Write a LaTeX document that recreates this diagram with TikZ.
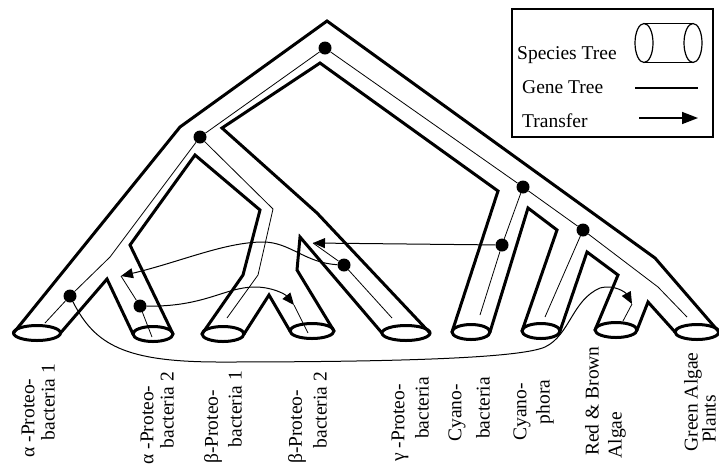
\documentclass[tikz,border=0pt]{standalone}
\usepackage{fontspec}
\setmainfont{Liberation Serif}
\usetikzlibrary{arrows.meta}
\begin{document}
\begin{tikzpicture}[x=1pt,y=-1pt,
  tube/.style={line width=3pt, line join=miter},
  rim/.style={line width=3pt},
  gene/.style={line width=0.8pt},
  xfer/.style={line width=1pt, -{Triangle[length=12pt,width=10pt]}},
  gdot/.style={circle, fill=black, inner sep=0pt, minimum size=13pt},
  lab/.style={rotate=90, inner sep=0pt, font=\fontsize{19.5}{22}\selectfont},
  legtext/.style={anchor=base west, inner sep=0pt, font=\fontsize{19.5}{22}\selectfont}]
\useasboundingbox (0,0) rectangle (719,467);

% species tree outline
\draw[tube] (13.5,333) -- (180,127) -- (327,21) -- (655,258) -- (719,332);
\draw[tube] (430,333) -- (317,213) -- (222,128) -- (320,63) -- (498,191) -- (452,332);
\draw[tube] (173,334) -- (130,245) -- (195,155) -- (260,210) -- (243,275) -- (202,334);
\draw[tube] (60.5,333) -- (107,279) -- (133,334);
\draw[tube] (244,334) -- (269,295) -- (290,331);
\draw[tube] (334,331) -- (297,270) -- (300,237) -- (382,333);
\draw[tube] (490,332) -- (528,208) -- (557,230) -- (522,331);
\draw[tube] (560,331) -- (587,252) -- (618,275) -- (595,330);
\draw[tube] (637,330) -- (648,302) -- (675,332);

% tube ends
\draw[rim] (37,333) ellipse [x radius=23.5pt, y radius=7.5pt];
\draw[rim] (153,334) ellipse [x radius=20pt, y radius=7.5pt];
\draw[rim] (223,334) ellipse [x radius=21pt, y radius=7.5pt];
\draw[rim] (312,331) ellipse [x radius=22pt, y radius=7.5pt];
\draw[rim] (406,333) ellipse [x radius=24pt, y radius=7.5pt];
\draw[rim] (471,332) ellipse [x radius=19pt, y radius=7.5pt];
\draw[rim] (541,331) ellipse [x radius=19pt, y radius=7.5pt];
\draw[rim] (616,330) ellipse [x radius=21pt, y radius=7.5pt];
\draw[rim] (697,332) ellipse [x radius=22pt, y radius=7.5pt];

% gene tree nodes
\node[gdot] (R) at (325,48) {};
\node[gdot] (P) at (200,137) {};
\node[gdot] (A1) at (70,296) {};
\node[gdot] (A2) at (140,306) {};
\node[gdot] (G) at (344,265) {};
\node[gdot] (C) at (523,187) {};
\node[gdot] (CB) at (502,245) {};
\node[gdot] (PL) at (583,230) {};

\coordinate (a1b) at (110,257); \coordinate (a1e) at (45,323);
\coordinate (a2t) at (121,276); \coordinate (a2e) at (152,337);
\coordinate (b1a) at (273,209); \coordinate (b1b) at (258,275); \coordinate (b1e) at (227,318);
\coordinate (b2t) at (294,305); \coordinate (b2e) at (308,333);
\coordinate (gt) at (313,243); \coordinate (ge) at (392,318);
\coordinate (cbe) at (480,315);
\coordinate (cpe) at (545,317);
\coordinate (gr1) at (658,287); \coordinate (gre) at (687,317);
\coordinate (rt) at (632,304); \coordinate (re) at (623,321);

% gene tree
\draw[gene] (P) -- (R) -- (C);
\draw[gene] (P) -- (a1b) -- (A1) -- (a1e);
\draw[gene] (a2t) -- (A2) -- (a2e);
\draw[gene] (P) -- (b1a) -- (b1b) -- (b1e);
\draw[gene] (b2t) -- (b2e);
\draw[gene] (gt) -- (G) -- (ge);
\draw[gene] (C) -- (CB) -- (cbe);
\draw[gene] (C) -- (PL) -- (gr1) -- (gre);
\draw[gene] (PL) -- (cpe);
\draw[gene] (rt) -- (re);

% transfers
\draw[xfer] (CB) -- (gt);
\draw[xfer] (G) .. controls (305,263) and (290,242) .. (263,242) .. controls (225,242) and (180,262) .. (a2t);
\draw[xfer] (A2) .. controls (205,307) and (225,287) .. (255,287) .. controls (272,287) and (285,294) .. (b2t);
\draw[xfer] (A1) .. controls (95,345) and (125,362) .. (220,362) .. controls (400,362) and (520,358) .. (545,347) .. controls (570,335) and (572,300) .. (600,288) .. controls (615,284) and (626,293) .. (rt);

% legend
\draw[line width=1.5pt] (512,9) rectangle (713,137);
\draw[line width=1.2pt] (644,23.5) -- (693,23.5) (644,62.5) -- (693,62.5);
\draw[line width=1.2pt] (644,43) ellipse [x radius=9pt, y radius=19.5pt];
\draw[line width=1.2pt] (693,43) ellipse [x radius=9pt, y radius=19.5pt];
\node[legtext] (lst) at (517,59) {Species Tree};
\node[legtext] (lgt) at (522,93) {Gene Tree};
\node[legtext] (ltr) at (522,127) {Transfer};
\coordinate (lg1) at (635,88); \coordinate (lg2) at (698,88);
\draw[line width=1.2pt] (lg1) -- (lg2);
\coordinate (lt1) at (639,118); \coordinate (lt2) at (698,118);
\draw[line width=1.5pt, -{Triangle[length=16pt,width=12pt]}] (lt1) -- (lt2);

% labels
\node[lab] (l1a) at (28,418) {α -Proteo-};
\node[lab] (l1b) at (48,402) {bacteria 1};
\node[lab] (l2a) at (147,425) {α -Proteo-};
\node[lab] (l2b) at (167,410) {bacteria 2};
\node[lab] (l3a) at (213,427) {β-Proteo-};
\node[lab] (l3b) at (235,409) {bacteria 1};
\node[lab] (l4a) at (297,427) {β-Proteo-};
\node[lab] (l4b) at (320,410) {bacteria 2};
\node[lab] (l5a) at (400,423) {γ -Proteo-};
\node[lab] (l5b) at (422,408) {bacteria};
\node[lab] (l6a) at (457,413) {Cyano-};
\node[lab] (l6b) at (483,408) {bacteria};
\node[lab] (l7a) at (522,412) {Cyano-};
\node[lab] (l7b) at (545,402) {phora};
\node[lab] (l8a) at (592,401) {Red \& Brown};
\node[lab] (l8b) at (617,435) {Algae};
\node[lab] (l9a) at (693,402) {Green Algae};
\node[lab] (l9b) at (709,419) {Plants};
\end{tikzpicture}
\end{document}
